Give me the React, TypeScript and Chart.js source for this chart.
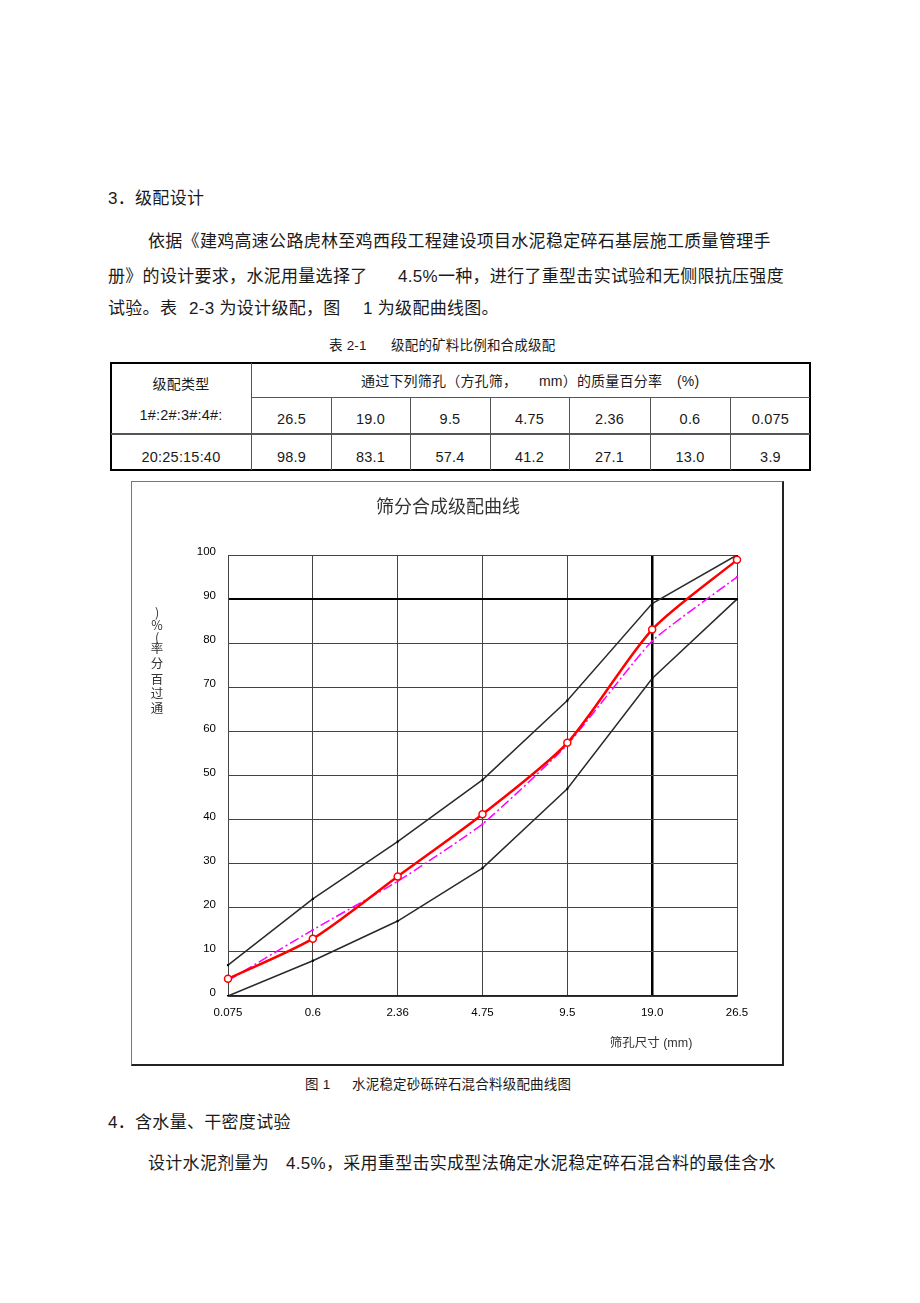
import React, { useEffect, useRef } from "react";
import { Chart, registerables } from "chart.js";

Chart.register(...registerables);

// ---- data ----
const sieveLabels = ["0.075", "0.6", "2.36", "4.75", "9.5", "19.0", "26.5"];
const upperLimit = [7, 22, 35, 49, 67, 89, 100];
const lowerLimit = [0, 8, 17, 29, 47, 72, 90];
const medianLine = [3.5, 15, 26, 39, 57, 80.5, 95];
const syntheticGrading = [3.9, 13.0, 27.1, 41.2, 57.4, 83.1, 98.9];

const tableSieves = ["26.5", "19.0", "9.5", "4.75", "2.36", "0.6", "0.075"];
const tablePassing = ["98.9", "83.1", "57.4", "41.2", "27.1", "13.0", "3.9"];

const chartTitle = "筛分合成级配曲线";
const yTitleChars = [")", "%", "(", "率", "分", "百", "过", "通"];
const xTitle = "筛孔尺寸 (mm)";

const FONT = '"Liberation Sans", "Noto Sans CJK SC", sans-serif';
const CJK = '"Noto Sans CJK SC", "Liberation Sans", sans-serif';

// canvas origin in page coords: (132, 482)
const textPlugin = {
  id: "textPlugin",
  afterDraw(chart: any) {
    const ctx = chart.ctx;
    ctx.save();
    ctx.fillStyle = "#333";
    ctx.textAlign = "center";
    ctx.textBaseline = "middle";
    ctx.font = `18px ${CJK}`;
    ctx.fillText(chartTitle, 316, 24);
    ctx.font = `12.5px ${CJK}`;
    const ys = [130, 143, 155, 166, 181, 197, 211, 226];
    yTitleChars.forEach((c, i) => ctx.fillText(c, 25, ys[i]));
    ctx.font = `12.5px ${FONT}`;
    ctx.fillText(xTitle, 519, 562);
    ctx.restore();
  },
};

function GradingChart() {
  const ref = useRef<HTMLCanvasElement>(null);
  useEffect(() => {
    if (!ref.current) return;
    const chart = new Chart(ref.current, {
      type: "line",
      data: {
        labels: sieveLabels,
        datasets: [
          {
            label: "合成级配",
            data: syntheticGrading,
            borderColor: "#ff0000",
            borderWidth: 2.5,
            pointRadius: 3.5,
            pointBackgroundColor: "#ffffff",
            pointBorderColor: "#ff0000",
            pointBorderWidth: 1.5,
            tension: 0.25,
          },
          {
            label: "中值",
            data: medianLine,
            borderColor: "#ff00ff",
            borderWidth: 1.5,
            borderDash: [10, 3, 2, 3],
            pointRadius: 1.2,
            pointBackgroundColor: "#ff00ff",
            pointBorderWidth: 0,
            tension: 0.15,
          },
          {
            label: "上限",
            data: upperLimit,
            borderColor: "#2a2a2a",
            borderWidth: 1.5,
            pointRadius: 1.5,
            pointStyle: "rect",
            pointBackgroundColor: "#000",
            pointBorderWidth: 0,
            tension: 0,
          },
          {
            label: "下限",
            data: lowerLimit,
            borderColor: "#2a2a2a",
            borderWidth: 1.5,
            pointRadius: 1.5,
            pointStyle: "rect",
            pointBackgroundColor: "#000",
            pointBorderWidth: 0,
            tension: 0,
          },
        ],
      },
      options: {
        animation: false,
        responsive: false,
        devicePixelRatio: 1,
        layout: { padding: { left: 0, top: 73, right: 45, bottom: 0 } },
        plugins: {
          legend: { display: false },
          tooltip: { enabled: false },
          title: { display: false },
        },
        scales: {
          x: {
            type: "category",
            offset: false,
            grid: {
              offset: false,
              drawTicks: false,
              color: (c: any) => (c.index === 5 ? "#000" : "#444"),
              lineWidth: (c: any) => (c.index === 5 ? 2.5 : 1),
            },
            border: { display: true, color: "#222", width: 1.5 },
            ticks: {
              padding: 10,
              color: "#000",
              font: { family: FONT, size: 11.5 },
              maxRotation: 0,
              autoSkip: false,
            },
            afterFit: (s: any) => {
              s.height = 68;
            },
          },
          y: {
            min: 0,
            max: 100,
            grid: {
              drawTicks: false,
              color: (c: any) => (c.tick && c.tick.value === 90 ? "#000" : "#444"),
              lineWidth: (c: any) => (c.tick && c.tick.value === 90 ? 2 : 1),
            },
            border: { display: true, color: "#444", width: 1 },
            ticks: {
              stepSize: 10,
              padding: 12,
              labelOffset: -3,
              color: "#000",
              font: { family: FONT, size: 11.5 },
            },
            afterFit: (s: any) => {
              s.width = 96;
            },
          },
        },
      },
      plugins: [textPlugin],
    } as any);
    return () => chart.destroy();
  }, []);
  return <canvas ref={ref} width={650} height={582} style={{ display: "block" }} />;
}

function T(props: { x: number; y: number; size: number; center?: boolean; children: any }) {
  const { x, y, size, center, children } = props;
  return (
    <span
      style={{
        position: "absolute",
        left: x,
        top: y - size / 2,
        fontSize: size,
        lineHeight: `${size}px`,
        fontFamily: FONT,
        color: "#1a1a1a",
        whiteSpace: "pre",
        transform: center ? "translateX(-50%)" : undefined,
        letterSpacing: size >= 16 ? "0.3px" : "0.2px",
      }}
    >
      {children}
    </span>
  );
}

const colEdges = [252, 331, 410, 490, 569, 650, 730, 811];

export default function App() {
  const line = (l: number, t: number, w: number, h: number, c = "#555") => (
    <div style={{ position: "absolute", left: l, top: t, width: w, height: h, background: c }} />
  );
  return (
    <div style={{ position: "absolute", left: 0, top: 0, width: 920, height: 1303, background: "#fff" }}>
      <T x={108} y={198} size={17}>3．级配设计</T>
      <T x={148} y={241} size={17}>依据《建鸡高速公路虎林至鸡西段工程建设项目水泥稳定碎石基层施工质量管理手</T>
      <T x={108} y={276} size={17}>册》的设计要求，水泥用量选择了</T>
      <T x={398} y={276} size={17}>4.5%一种，进行了重型击实试验和无侧限抗压强度</T>
      <T x={108} y={308} size={17}>试验。表</T>
      <T x={189} y={308} size={17}>2-3 为设计级配，图</T>
      <T x={363} y={308} size={17}>1 为级配曲线图。</T>

      <T x={329} y={346} size={13.5}>表 2-1</T>
      <T x={391} y={346} size={13.5}>级配的矿料比例和合成级配</T>

      {/* table */}
      <div
        style={{
          position: "absolute",
          left: 110,
          top: 362,
          width: 701,
          height: 109,
          border: "2px solid #000",
          boxSizing: "border-box",
        }}
      />
      {line(251, 363, 1, 107)}
      {line(252, 397, 558, 1)}
      {line(111, 433, 699, 1.5)}
      {colEdges.slice(1, 7).map((x) => (
        <React.Fragment key={x}>{line(x, 398, 1, 72)}</React.Fragment>
      ))}
      <T x={181} y={384} size={14} center>级配类型</T>
      <T x={181} y={415} size={14.5} center>1#:2#:3#:4#:</T>
      <T x={181} y={457} size={14.5} center>20:25:15:40</T>
      <T x={361} y={381} size={14}>通过下列筛孔（方孔筛，</T>
      <T x={539} y={381} size={14}>mm）的质量百分率</T>
      <T x={677} y={381} size={14}>(%)</T>
      {tableSieves.map((s, i) => (
        <T key={"s" + i} x={(colEdges[i] + colEdges[i + 1]) / 2} y={419} size={14.5} center>
          {s}
        </T>
      ))}
      {tablePassing.map((s, i) => (
        <T key={"p" + i} x={(colEdges[i] + colEdges[i + 1]) / 2} y={457} size={14.5} center>
          {s}
        </T>
      ))}

      {/* chart frame */}
      <div
        style={{
          position: "absolute",
          left: 131,
          top: 481,
          width: 653,
          height: 585,
          borderLeft: "1px solid #777",
          borderTop: "1px solid #777",
          borderRight: "2px solid #222",
          borderBottom: "2px solid #222",
          boxSizing: "border-box",
        }}
      >
        <GradingChart />
      </div>

      <T x={305} y={1085} size={13.5}>图 1</T>
      <T x={352} y={1085} size={13.5}>水泥稳定砂砾碎石混合料级配曲线图</T>
      <T x={108} y={1122} size={17}>4．含水量、干密度试验</T>
      <T x={148} y={1163} size={17}>设计水泥剂量为</T>
      <T x={286} y={1163} size={17}>4.5%，采用重型击实成型法确定水泥稳定碎石混合料的最佳含水</T>
    </div>
  );
}
